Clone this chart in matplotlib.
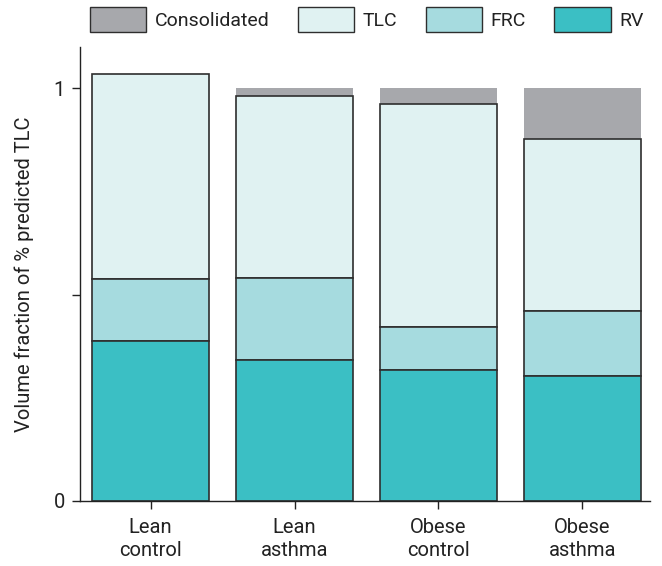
import matplotlib.pyplot as plt
import numpy as np
from matplotlib.patches import Patch

groups = ['Lean\ncontrol', 'Lean\nasthma', 'Obese\ncontrol', 'Obese\nasthma']

# cumulative levels (fraction of predicted TLC)
rv_level = [0.388, 0.342, 0.318, 0.303]
frc_level = [0.538, 0.539, 0.422, 0.459]
tlc_level = [1.034, 0.981, 0.962, 0.876]
consolidated_top = [0.0, 1.0, 1.0, 1.0]

c_cons = '#a7a8ac'
c_tlc = '#e0f2f2'
c_frc = '#a6dbdf'
c_rv = '#3bbfc4'
edge = '#2e2e2e'
txt = '#222222'

plt.rcParams['font.family'] = ['Roboto', 'DejaVu Sans']

fig = plt.figure(figsize=(6.62, 5.66), dpi=100)
ax = fig.add_axes([0.121, 0.115, 0.861, 0.802])

x = np.arange(len(groups))
w = 0.81

rv = np.array(rv_level)
frc = np.array(frc_level)
tlc = np.array(tlc_level)
cons = np.array(consolidated_top)

# consolidated volume sits between TLC and 1 (no outline)
has_cons = cons > 0
ax.bar(x[has_cons], (cons - tlc)[has_cons], bottom=tlc[has_cons], width=w,
       color=c_cons, edgecolor='none')
ax.bar(x, tlc - frc, bottom=frc, width=w, color=c_tlc, edgecolor=edge, linewidth=1.2)
ax.bar(x, frc - rv, bottom=rv, width=w, color=c_frc, edgecolor=edge, linewidth=1.2)
ax.bar(x, rv, width=w, color=c_rv, edgecolor=edge, linewidth=1.2)

ax.set_xlim(-0.49, 3.47)
ax.set_ylim(0, 1.1)
ax.set_yticks([0, 0.5, 1])
ax.set_yticklabels(['0', '', '1'])
ax.set_xticks(x)
ax.set_xticklabels(groups, fontsize=14.5, color=txt, linespacing=1.3)
ax.tick_params(axis='y', labelsize=14.5, length=6, width=1, colors=txt, pad=5)
ax.tick_params(axis='x', length=6, width=1, colors=txt, pad=6)
ax.set_ylabel('Volume fraction of % predicted TLC', fontsize=14.5, color=txt, labelpad=14)

for s in ['top', 'right']:
    ax.spines[s].set_visible(False)
for s in ['left', 'bottom']:
    ax.spines[s].set_linewidth(1)
    ax.spines[s].set_color(txt)

handles = [
    Patch(facecolor=c_cons, edgecolor=edge, label='Consolidated'),
    Patch(facecolor=c_tlc, edgecolor=edge, label='TLC'),
    Patch(facecolor=c_frc, edgecolor=edge, label='FRC'),
    Patch(facecolor=c_rv, edgecolor=edge, label='RV'),
]
leg = fig.legend(handles=handles, loc='upper center', bbox_to_anchor=(0.554, 1.018), ncol=4,
                 frameon=False, fontsize=14, handlelength=2.9, handleheight=1.55,
                 columnspacing=1.45, handletextpad=0.45)
for t in leg.get_texts():
    t.set_color(txt)

fig.savefig('out.png', dpi=100)
